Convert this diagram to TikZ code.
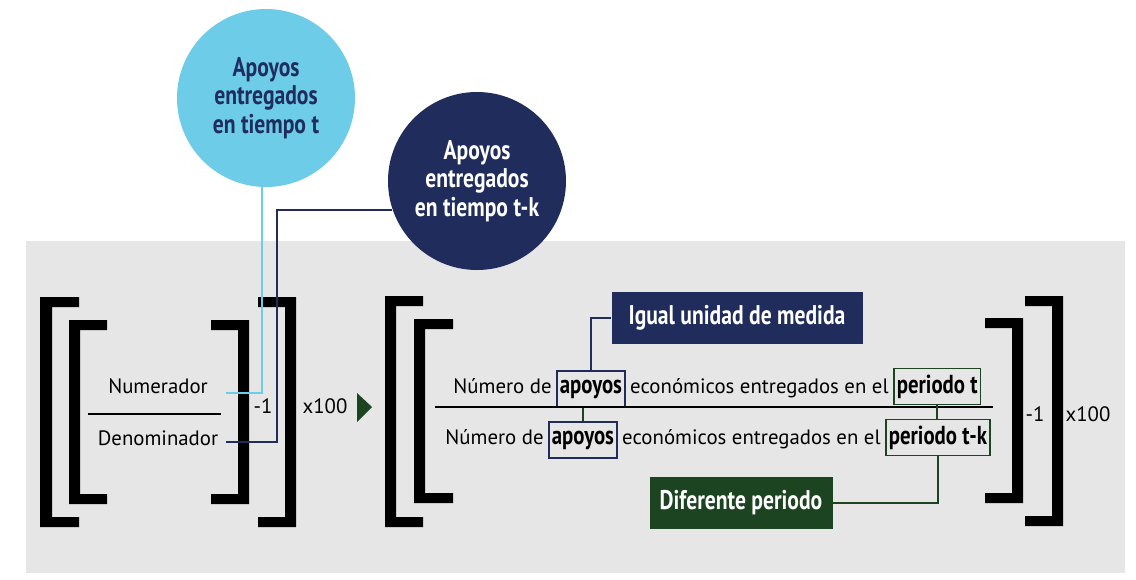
\documentclass[tikz,border=0pt]{standalone}
\usepackage{fontspec}
\setmainfont{PT Sans}
\newfontfamily\condbf[FakeStretch=0.8]{PT Sans}
\usetikzlibrary{calc,positioning}
\definecolor{navy}{HTML}{1F2C5C}
\definecolor{cyanb}{HTML}{6DCDE8}
\definecolor{forest}{HTML}{1D4421}
\definecolor{panel}{HTML}{E6E6E6}
\tikzset{
  txt/.style={inner sep=0pt,font=\fontsize{10.4}{12}\selectfont},
  apbox/.style={draw=navy,line width=0.8pt,inner xsep=1.5pt,inner ysep=0pt,minimum height=18pt,
    font=\condbf\bfseries\fontsize{13}{14}\selectfont},
  pebox/.style={apbox,draw=forest},
  tag/.style={text=white,minimum height=26pt,inner sep=0pt,font=\condbf\bfseries\fontsize{13.5}{15}\selectfont},
  bub/.style={circle,minimum size=89pt,inner sep=0pt,align=center,
    font=\condbf\bfseries\fontsize{13.5}{14.3}\selectfont},
}
\begin{document}
\begin{tikzpicture}[x=0.5pt,y=-0.5pt]
\useasboundingbox (0,0) rectangle (1136,579);
\fill[panel] (26,241) rectangle (1125,573);
% corchetes
\foreach \xa/\xb/\s/\ya/\yb in {40/79/12/297/527, 69/107/11/320/504, 249/211/-11/320/504, 296/258/-11/297/527,
  385/423/11/296/527, 414/453/11/319/503, 1023/985/-11/318/503, 1063/1025/-11/296/526}
  \fill (\xb,\ya) -- (\xa,\ya) -- (\xa,\yb) -- (\xb,\yb) -- (\xb,{\yb-10}) -- ({\xa+\s},{\yb-10}) -- ({\xa+\s},{\ya+10}) -- (\xb,{\ya+10}) -- cycle;

% formula general
\node[txt,anchor=base] (numL) at (158,393) {Numerador};
\node[txt,anchor=base] (denL) at (158,445) {Denominador};
\draw[line width=1pt] (88,414) -- (221,414);
\node[txt,anchor=base] (expL) at (263,413) {-1};
\node[txt,anchor=base] (mulL) at (325,413) {x100};
\fill[forest] (357,393) -- (372,407) -- (357,422) -- cycle;

% circulos
\node[bub,fill=cyanb,text=navy] (circT) at (266,98) {Apoyos\\entregados\\en tiempo t};
\node[bub,fill=navy,text=white] (circK) at (477,181) {Apoyos\\entregados\\en tiempo t-k};
\coordinate (pN) at (226,393);
\coordinate (pD) at (226,442);
\coordinate (kC) at (277,442);
\draw[cyanb,line width=1.2pt] ([xshift=-2pt]circT.south) |- (pN);
\draw[navy,line width=1pt] (circK.199) -| (kC) -- (pD);

% formula del indicador
\node[txt,anchor=base west] (numA) at (453,393) {Número de};
\node[apbox,base right=2pt of numA] (apN) {apoyos};
\node[txt,base right=2pt of apN] (numB) {económicos entregados en el};
\node[pebox,base right=2pt of numB] (peN) {periodo t};
\node[txt,anchor=base west] (denA) at (445,444) {Número de};
\node[apbox,base right=2pt of denA] (apD) {apoyos};
\node[txt,base right=2pt of apD] (denB) {económicos entregados en el};
\node[pebox,base right=2pt of denB] (peD) {periodo t-k};
\draw[line width=1pt] (435,407) -- (993,407);
\node[txt,anchor=base] (expR) at (1035,421) {-1};
\node[txt,anchor=base] (mulR) at (1088,421) {x100};

% etiquetas
\node[tag,fill=navy,minimum width=125.5pt] (igual) at (737,318) {Igual unidad de medida};
\node[tag,fill=forest,minimum width=91.5pt] (difer) at (741,503) {Diferente periodo};
\draw[navy,line width=0.8pt] (igual.west) -| (apN.north);
\draw[forest,line width=0.8pt] (apD.north) -- (apD.north |- apN.south);
\draw[forest,line width=0.8pt] (peN.south) -- (peN.south |- peD.north);
\draw[forest,line width=0.8pt] (difer.east) -| (peD.south);
\end{tikzpicture}
\end{document}
